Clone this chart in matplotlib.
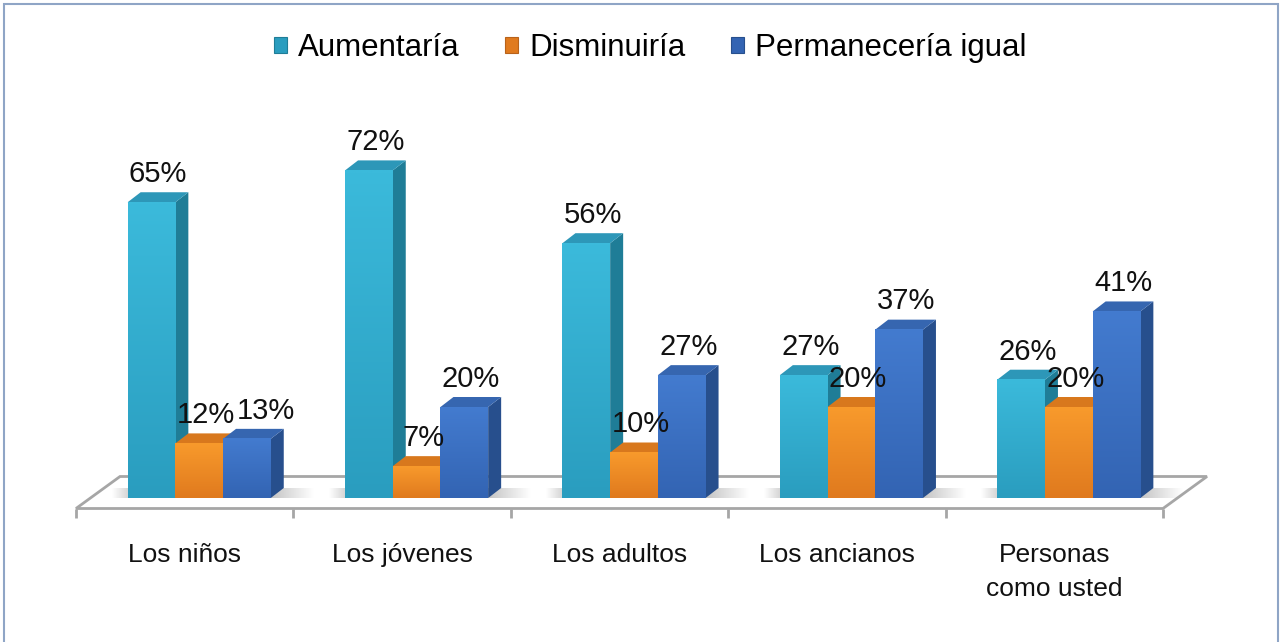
import numpy as np
import matplotlib.pyplot as plt
from matplotlib.patches import Polygon, Patch, Rectangle
from matplotlib.colors import to_rgb

plt.rcParams['font.family'] = ['Liberation Sans', 'DejaVu Sans']

# data
categories = ['Los niños', 'Los jóvenes', 'Los adultos', 'Los ancianos', 'Personas\ncomo usted']
series = ['Aumentaría', 'Disminuiría', 'Permanecería igual']
aumentaria = [65, 72, 56, 27, 26]
disminuiria = [12, 7, 10, 20, 20]
permaneceria = [13, 20, 27, 37, 41]
values = [aumentaria, disminuiria, permaneceria]

# colours: front (top, bottom), side, top
front_cols = [('#3bbadb', '#2a9dbf'), ('#f89a2c', '#e07a1e'), ('#437bcf', '#3364b3')]
side_cols = ['#1f7d97', '#b8621a', '#274f8d']
top_cols = ['#2d97b8', '#d8781d', '#3666b0']

W, H = 1283, 642
fig = plt.figure(figsize=(W / 100, H / 100), dpi=100)

# pixels per data unit
PX = 1087 / 5
PY = 4.55
ax = fig.add_axes([76 / W, 1 - 508.5 / H, 1087 / W, 430 / H])
ax.axis('off')

# pseudo 3d geometry
bw = 47.7 / PX
dx0, y0 = 14.5 / PX, 10.5 / PY        # bars sit a bit back on the floor
ddx, ddy = 13 / PX, 10 / PY           # bar depth
fdx, fdy = 44 / PX, 32 / PY           # floor depth
n = len(categories)


def grad(patch, c1, c2, ext, vertical=True, z=2):
    a, b = np.array(to_rgb(c1)), np.array(to_rgb(c2))
    t = np.linspace(0, 1, 64)
    arr = a[None, :] * (1 - t[:, None]) + b[None, :] * t[:, None]
    if vertical:
        img = arr[:, None, :]          # c1 at top
    else:
        img = arr[None, :, :]          # c1 at left
    im = ax.imshow(img, extent=ext, aspect='auto', origin='upper', zorder=z,
                   interpolation='bilinear', clip_on=False)
    im.set_clip_path(patch)


# floor (fill below the shadows, outline above them)
corners = [(-0.5, 0), (n - 0.5, 0), (n - 0.5 + fdx, fdy), (-0.5 + fdx, fdy)]
ax.add_patch(Polygon(corners, closed=True, facecolor='white', edgecolor='none', zorder=1, clip_on=False))
ax.add_patch(Polygon(corners, closed=True, facecolor='none', edgecolor='#a6a6a6', lw=2, zorder=2,
                     clip_on=False))
ax.vlines(np.arange(n + 1) - 0.5, -9 / PY, 0, color='#a6a6a6', lw=2, clip_on=False, zorder=2)

x = np.arange(n)
offsets = [-bw, 0, bw]
for i in range(n):
    # soft shadows on the floor
    xr = x[i] + bw * 1.5 + dx0 + ddx
    sh = Polygon([(xr - ddx, y0), (xr + 30 / PX, y0 + 3 / PY), (xr + 30 / PX, y0 + ddy), (xr, y0 + ddy)],
                 closed=True, facecolor='none', edgecolor='none', clip_on=False)
    ax.add_patch(sh)
    grad(sh, '#c4c4c4', '#ffffff', (xr - ddx, xr + 30 / PX, y0, y0 + ddy), vertical=False, z=1.5)
    xl = x[i] - bw * 1.5 + dx0
    sh2 = Polygon([(xl - 16 / PX, y0 + 3 / PY), (xl, y0 + 3 / PY), (xl, y0 + ddy), (xl - 16 / PX, y0 + ddy)],
                  closed=True, facecolor='none', edgecolor='none', clip_on=False)
    ax.add_patch(sh2)
    grad(sh2, '#ffffff', '#d6d6d6', (xl - 16 / PX, xl, y0, y0 + ddy), vertical=False, z=1.5)

    for s in range(3):
        v = values[s][i]
        left = x[i] + offsets[s] - bw / 2 + dx0
        right = left + bw
        top = y0 + v
        z = 3 + s
        side = Polygon([(right, y0), (right, top), (right + ddx, top + ddy), (right + ddx, y0 + ddy)],
                       closed=True, facecolor=side_cols[s], edgecolor='none', zorder=z, clip_on=False)
        ax.add_patch(side)
        lid = Polygon([(left, top), (right, top), (right + ddx, top + ddy), (left + ddx, top + ddy)],
                      closed=True, facecolor=top_cols[s], edgecolor='none', zorder=z, clip_on=False)
        ax.add_patch(lid)
        b = ax.bar(left, v, width=bw, bottom=y0, align='edge', color=front_cols[s][0],
                   edgecolor='none', zorder=z)[0]
        grad(b, front_cols[s][0], front_cols[s][1], (left, right, y0, top), z=z + 0.1)

# value labels
lab_w = 60 / PX
for i in range(n):
    prev_x, prev_v = None, None
    for s in range(3):
        v = values[s][i]
        cx = x[i] + offsets[s] + dx0 + ddx / 2
        if prev_x is not None and abs(v - prev_v) < 5 and cx - prev_x < lab_w:
            cx = prev_x + lab_w
        ax.annotate(f'{v}%', (cx, y0 + v + ddy), xytext=(0, 3), textcoords='offset points',
                    ha='center', va='bottom', fontsize=21, color='#111111', zorder=10,
                    annotation_clip=False)
        prev_x, prev_v = cx, v

# category labels
for i, c in enumerate(categories):
    ax.text(x[i], -(543 - 508.5) / PY, c, ha='center', va='top', fontsize=19,
            linespacing=1.55, color='#111111', clip_on=False)

ax.set_xlim(-0.5, n - 0.5)
ax.set_ylim(0, 430 / PY)

# legend
handles = [Patch(facecolor=front_cols[s][1], edgecolor=side_cols[s], lw=0.8) for s in range(3)]
fig.legend(handles, series, loc='center', bbox_to_anchor=(650 / W, 1 - 48 / H), ncol=3,
           frameon=False, fontsize=22.5, handlelength=0.42, handleheight=0.42,
           handletextpad=0.35, columnspacing=1.45)

# outer border
fig.patches.append(Rectangle((4 / W, -0.02), (1278 - 4) / W, 1.02 - 4 / H, transform=fig.transFigure,
                             fill=False, edgecolor='#8fa5c6', lw=1.5))

fig.savefig('out.png', dpi=100, facecolor='white')
